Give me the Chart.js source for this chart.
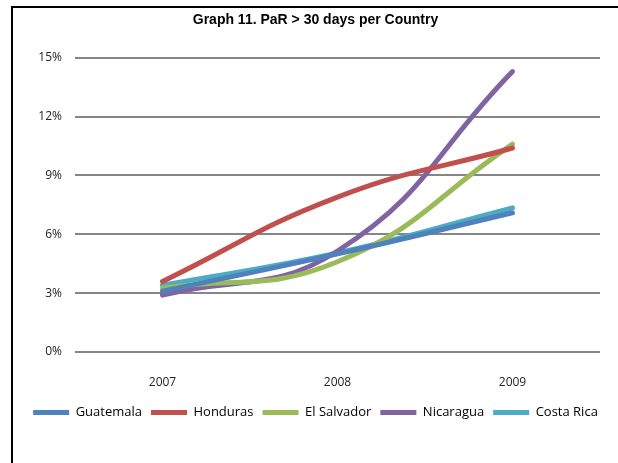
<!DOCTYPE html>
<html>
<head>
<meta charset="utf-8">
<script src="https://cdn.jsdelivr.net/npm/chart.js@4"></script>
<style>
  html, body { margin: 0; padding: 0; background: #fff; }
  #frame {
    position: absolute; left: 11px; top: 6px;
    width: 605px; height: 455px;
    border-top: 2px solid #000; border-left: 2px solid #000;
  }
  #chart { display: block; }
</style>
</head>
<body>
<div id="frame"><canvas id="chart" width="605" height="455"></canvas></div>
<script>
// datos (PaR > 30 días, %)
const years = ['2007', '2008', '2009'];
const guatemala  = [3.1, 5.0, 7.1];
const honduras   = [3.6, 7.9, 10.4];
const elSalvador = [3.25, 4.6, 10.6];
const nicaragua  = [2.9, 5.15, 14.3];
const costaRica  = [3.4, 5.05, 7.35];
const yTicks = [0, 3, 6, 9, 12, 15];

function serie(label, data, color) {
    return {
        label: label,
        data: data,
        borderColor: color,
        backgroundColor: color,
        borderWidth: 5,
        borderCapStyle: 'round',
        pointRadius: 0,
        tension: 0.45,
        fill: false
    };
}

new Chart(document.getElementById('chart'), {
    type: 'line',
    data: {
        labels: years,
        datasets: [
            serie('Guatemala', guatemala, '#4F81BD'),
            serie('Honduras', honduras, '#C0504D'),
            serie('El Salvador', elSalvador, '#9BBB59'),
            serie('Nicaragua', nicaragua, '#8064A2'),
            serie('Costa Rica', costaRica, '#4BACC6')
        ]
    },
    options: {
        responsive: false,
        animation: false,
        layout: { padding: { left: 0, right: 0, top: 0, bottom: 34 } },
        plugins: {
            title: {
                display: true,
                text: 'Graph 11. PaR > 30 days per Country',
                color: '#000',
                font: { family: 'Liberation Sans', size: 14, weight: 'bold' },
                padding: { top: 4, bottom: 29 }
            },
            legend: {
                position: 'bottom',
                labels: {
                    usePointStyle: true,
                    pointStyle: 'line',
                    pointStyleWidth: 36,
                    boxHeight: 5,
                    padding: 9,
                    color: '#000',
                    font: { family: 'Open Sans', size: 13 }
                }
            },
            tooltip: { enabled: false }
        },
        scales: {
            x: {
                offset: true,
                afterFit: (s) => { s.height = 45; },
                grid: { display: false },
                border: { display: false },
                ticks: { color: '#222', padding: 15, font: { family: 'Open Sans', size: 12 } }
            },
            y: {
                min: 0,
                max: 15,
                afterFit: (s) => { s.width = 62; },
                afterBuildTicks: (s) => { s.ticks = yTicks.map(v => ({ value: v })); },
                grid: { color: '#868686', lineWidth: 2, drawTicks: false },
                border: { display: false },
                ticks: {
                    color: '#222',
                    padding: 13,
                    font: { family: 'Open Sans', size: 12 },
                    callback: (v) => v + '%'
                }
            },
            // eje vacío a la derecha, solo para dejar el margen
            yRight: {
                position: 'right',
                afterFit: (s) => { s.width = 18; },
                grid: { display: false },
                border: { display: false },
                ticks: { display: false }
            }
        }
    }
});
</script>
</body>
</html>
